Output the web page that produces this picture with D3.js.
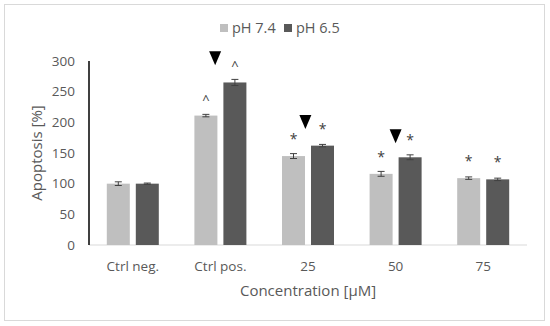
<!DOCTYPE html>
<html><head><meta charset="utf-8">
<script src="https://cdn.jsdelivr.net/npm/d3@7/dist/d3.min.js"></script>
<style>body{margin:0;background:#fff}svg{display:block;font-family:"Open Sans",sans-serif}</style>
</head><body><svg id="c" width="550" height="326"></svg>
<script>
const categories = ["Ctrl neg.", "Ctrl pos.", "25", "50", "75"];
const seriesNames = ["pH 7.4", "pH 6.5"];
const ph74 = [100, 211, 145, 116, 109];
const ph65 = [100, 265, 162, 143, 107];
const err74 = [3, 2, 4, 4, 2];
const err65 = [1, 5, 2, 4, 2];
const marks74 = ["", "^", "*", "*", "*"];
const marks65 = ["", "^", "*", "*", "*"];
const arrowCats = ["Ctrl pos.", "25", "50"];
const arrowVals = [293, 189, 166];
const arrowOffsets = [0.44, 0.47, 0.5];
const yTicks = [0, 50, 100, 150, 200, 250, 300];

const svg = d3.select("#c");
const colors = ["#bfbfbf", "#595959"];
svg.append("rect").attr("x",4.5).attr("y",4.5).attr("width",540).attr("height",316)
  .attr("fill","#fff").attr("stroke","#d9d9d9");

const x = d3.scaleBand().domain(categories).range([89, 527]);
const y = d3.scaleLinear().domain([0, 300]).range([245, 61]);
const barW = 23, gap = 6;

const yAxis = d3.axisLeft(y).tickValues(yTicks).tickSize(0).tickPadding(14);
const ga = svg.append("g").attr("transform","translate(89,0)").call(yAxis);
ga.select(".domain").remove();
ga.selectAll("text").attr("fill","#595959").style("font-size","13.5px").style("font-family","Open Sans");

svg.append("line").attr("x1",89).attr("x2",527).attr("y1",y(0)).attr("y2",y(0)).attr("stroke","#d9d9d9").attr("stroke-width",1);
svg.append("line").attr("x1",89).attr("x2",89).attr("y1",y(300)).attr("y2",y(0)).attr("stroke","#000").attr("stroke-width",1.5);

const xAxis = d3.axisBottom(x).tickSize(0).tickPadding(16);
const gx = svg.append("g").attr("transform",`translate(0,${y(0)})`).call(xAxis);
gx.select(".domain").remove();
gx.selectAll("text").attr("fill","#595959").style("font-size","13.5px").style("font-family","Open Sans");

const series = [ph74, ph65], errs = [err74, err65], marks = [marks74, marks65];
series.forEach((vals, s) => {
  const g = svg.append("g");
  categories.forEach((c, i) => {
    const cx = x(c) + x.bandwidth()/2;
    const bx = s === 0 ? cx - gap/2 - barW : cx + gap/2;
    const v = vals[i], e = errs[s][i];
    g.append("rect").attr("x",bx).attr("y",y(v)).attr("width",barW).attr("height",y(0)-y(v)).attr("fill",colors[s]);
    const mx = bx + barW/2;
    g.append("line").attr("x1",mx).attr("x2",mx).attr("y1",y(v+e)).attr("y2",y(v-e)).attr("stroke","#404040").attr("stroke-width",1);
    [v+e, v-e].forEach(t => g.append("line").attr("x1",mx-3.5).attr("x2",mx+3.5).attr("y1",y(t)).attr("y2",y(t)).attr("stroke","#404040").attr("stroke-width",1));
    const m = marks[s][i];
    if (m) {
      g.append("text").attr("x",mx).attr("y",y(v) - (m === "^" ? 12 : 12)).attr("text-anchor","middle")
        .attr("fill","#404040").style("font-size", m === "^" ? "13px" : "14px").text(m);
    }
  });
});

arrowCats.forEach((c, i) => {
  const ax = x(c) + x.bandwidth()*arrowOffsets[i];
  const ay = y(arrowVals[i]);
  svg.append("path").attr("d",`M${ax-6},${ay-14}L${ax+6},${ay-14}L${ax},${ay}Z`).attr("fill","#000");
});

svg.append("text").attr("transform",`translate(42,${(y(0)+y(300))/2}) rotate(-90)`).attr("text-anchor","middle")
  .attr("fill","#595959").style("font-size","15px").text("Apoptosis [%]");
svg.append("text").attr("x",(89+527)/2).attr("y",296).attr("text-anchor","middle")
  .attr("fill","#595959").style("font-size","15px").text("Concentration [μM]");

const lg = svg.append("g");
const lx = [220, 284];
seriesNames.forEach((n, i) => {
  lg.append("rect").attr("x",lx[i]).attr("y",24).attr("width",8).attr("height",8).attr("fill",colors[i]);
  lg.append("text").attr("x",lx[i]+12).attr("y",33).attr("fill","#595959").style("font-size","14.5px").text(n);
});
</script></body></html>
